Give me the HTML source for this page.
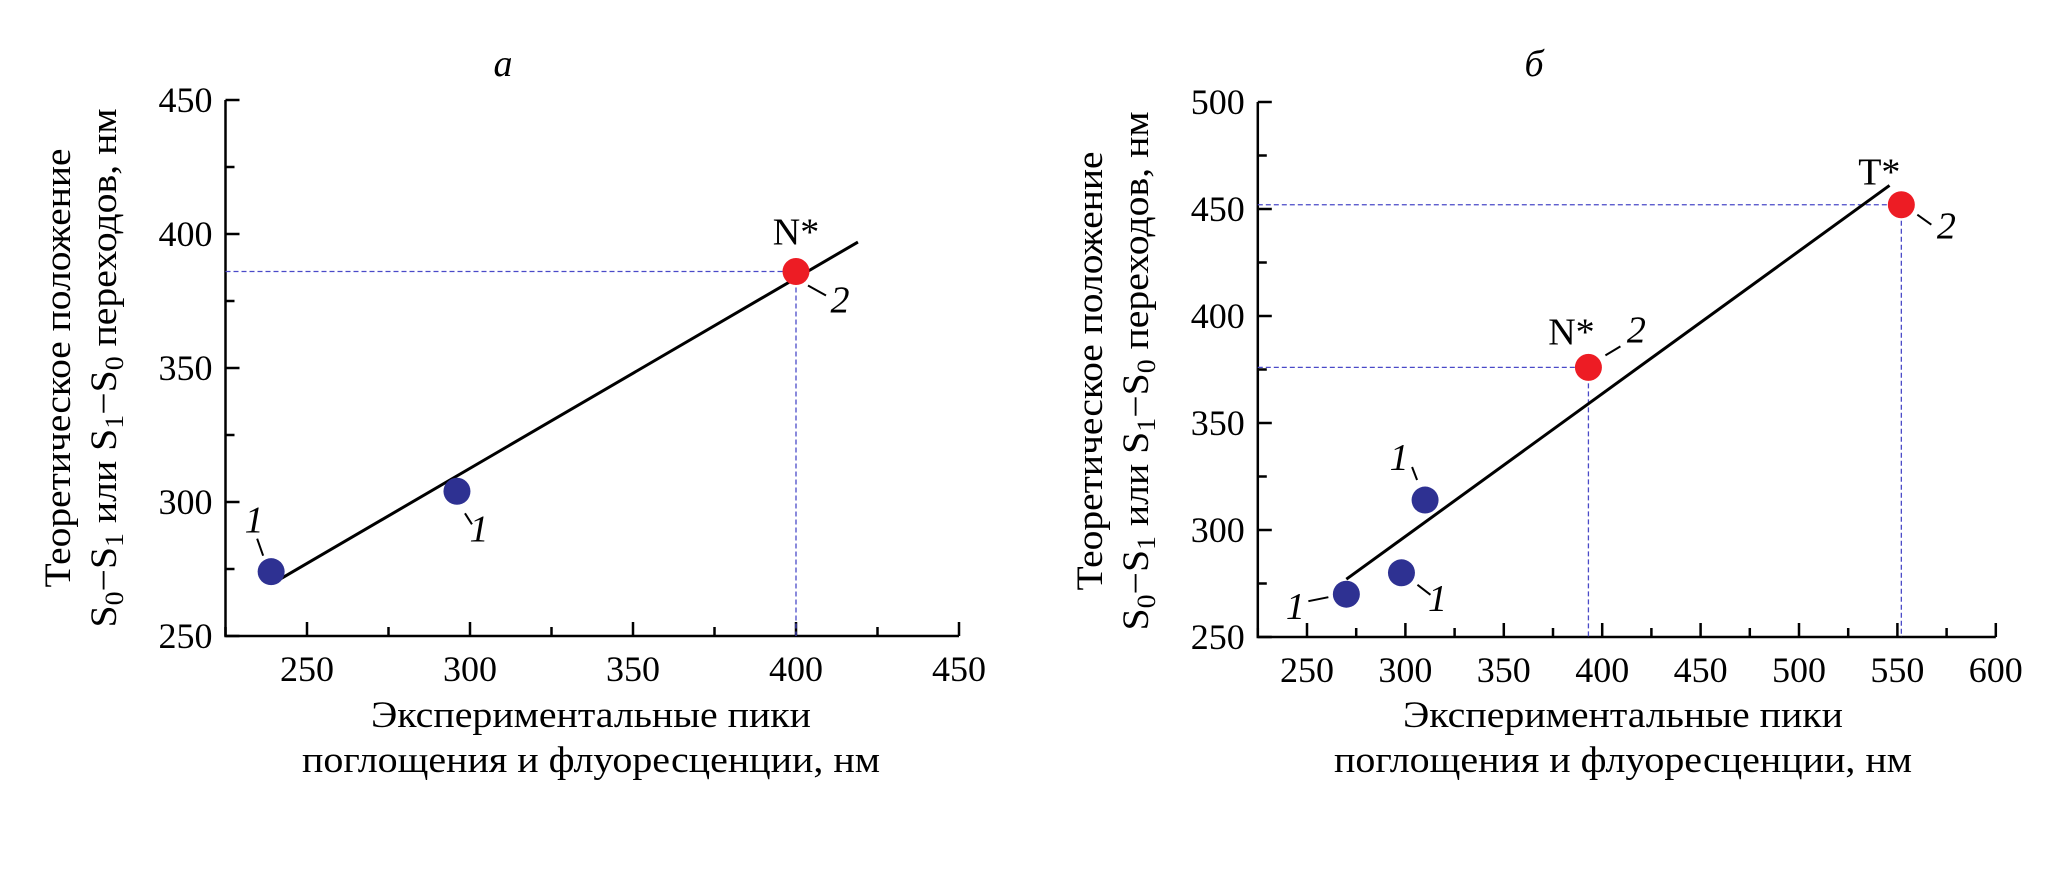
<!DOCTYPE html>
<html><head><meta charset="utf-8"><style>
html,body{margin:0;padding:0;background:#fff;}
svg{display:block;font-family:"Liberation Serif",serif;}
</style></head><body>
<svg id="fig" width="2049" height="875" viewBox="0 0 2049 875" xmlns="http://www.w3.org/2000/svg"></svg>
<script>
// Panel a data
const aXTicks = [250, 300, 350, 400, 450];
const aYTicks = [250, 300, 350, 400, 450];
const aSeries1X = [239, 296];
const aSeries1Y = [274, 304];
const aSeries2X = [400];
const aSeries2Y = [386];
const aFitX = [240, 419];
const aFitY = [270, 397];
// Panel b data
const bXTicks = [250, 300, 350, 400, 450, 500, 550, 600];
const bYTicks = [250, 300, 350, 400, 450, 500];
const bSeries1X = [270, 298, 310];
const bSeries1Y = [270, 280, 314];
const bSeries2X = [393, 552];
const bSeries2Y = [376, 452];
const bFitX = [270, 546];
const bFitY = [277, 461];

const NS = "http://www.w3.org/2000/svg";
const svg = document.getElementById('fig');
function mk(tag, attrs, parent, text) {
  const e = document.createElementNS(NS, tag);
  for (const k in attrs) e.setAttribute(k, attrs[k]);
  if (text !== undefined) e.textContent = text;
  (parent || svg).appendChild(e);
  return e;
}

function panel(cfg) {
  const g = mk('g', {});
  
  
  const xs = v => cfg.x0 + (v - cfg.xmin) * cfg.kx;
  const ys = v => cfg.y0 - (v - cfg.ymin) * cfg.ky;
  const left = xs(cfg.xstart), right = xs(cfg.xend), bottom = cfg.y0, top = ys(cfg.yend);
  const ax = mk('path', {d:`M${left},${top} L${left},${bottom} L${right},${bottom}`, fill:'none', stroke:'#000', 'stroke-width':2.5}, g);
  
  
  cfg.yTicks.forEach((v, i) => {
    const y = ys(v);
    mk('line', {x1:left, x2:left+14, y1:y, y2:y, stroke:'#000', 'stroke-width':2.5}, g);
    if (i < cfg.yTicks.length - 1) {
      const ym = ys(v + (cfg.yTicks[1]-cfg.yTicks[0])/2);
      mk('line', {x1:left, x2:left+9, y1:ym, y2:ym, stroke:'#000', 'stroke-width':2.5}, g);
    }
    const t = mk('text', {x:left-13, y:y+12, 'font-size':36, 'text-anchor':'end'}, g, String(v));
    
    
  });
  const step = cfg.xTicks[1]-cfg.xTicks[0];
  cfg.xTicks.forEach((v, i) => {
    const x = xs(v);
    mk('line', {x1:x, x2:x, y1:bottom, y2:bottom-14, stroke:'#000', 'stroke-width':2.5}, g);
    const xm = xs(v - step/2);
    mk('line', {x1:xm, x2:xm, y1:bottom, y2:bottom-9, stroke:'#000', 'stroke-width':2.5}, g);
    const t = mk('text', {x:x, y:bottom+45, 'font-size':36, 'text-anchor':'middle'}, g, String(v));
    
    
  });
  cfg.s2x.forEach((v, i) => {
    const px = xs(v), py = ys(cfg.s2y[i]);
    const h = mk('line', {x1:left, x2:px, y1:py, y2:py, stroke:'#4a4ac8', 'stroke-width':1.3, 'stroke-dasharray':'5,3'}, g);
    
    
    const vv = mk('line', {x1:px, x2:px, y1:py, y2:bottom, stroke:'#4a4ac8', 'stroke-width':1.3, 'stroke-dasharray':'5,3'}, g);
    
    
  });
  const fl = mk('line', {x1:xs(cfg.fx[0]), y1:ys(cfg.fy[0]), x2:xs(cfg.fx[1]), y2:ys(cfg.fy[1]), stroke:'#000', 'stroke-width':3}, g);
  
  
  cfg.s1x.forEach((v, i) => {
    const c = mk('ellipse', {cx:xs(v), cy:ys(cfg.s1y[i]), rx:13.5, ry:13.5, fill:'#2e3192'}, g);
    
    
    const L = cfg.l1[i];
    const px = xs(v), py = ys(cfg.s1y[i]);
    mk('line', {x1:px+L[2], y1:py+L[3], x2:px+L[4], y2:py+L[5], stroke:'#000', 'stroke-width':2}, g);
    const t = mk('text', {x:px+L[0], y:py+L[1]+13, 'font-size':38, 'font-style':'italic', 'text-anchor':'middle'}, g, '1');
    
    
  });
  cfg.s2x.forEach((v, i) => {
    const px = xs(v), py = ys(cfg.s2y[i]);
    const c = mk('ellipse', {cx:px, cy:py, rx:13.5, ry:13.5, fill:'#ed1c24'}, g);
    
    
    const L = cfg.l2[i];
    mk('line', {x1:px+L[2], y1:py+L[3], x2:px+L[4], y2:py+L[5], stroke:'#000', 'stroke-width':2}, g);
    const t = mk('text', {x:px+L[0], y:py+L[1]+13, 'font-size':38, 'font-style':'italic', 'text-anchor':'middle'}, g, '2');
    
    
    const n = mk('text', {x:px+L[6], y:py+L[7]+13, 'font-size':38, 'text-anchor':'middle'}, g, L[8]);
    
    
  });
  const tt = mk('text', {x:cfg.tx, y:76, 'font-size':38, 'font-style':'italic', 'text-anchor':'middle'}, g, cfg.title);
  
  
  const y1 = mk('text', {x:0, y:0, 'font-size':37, 'text-anchor':'middle', transform:`translate(${cfg.ytx1},${cfg.ytc}) rotate(-90)`, textLength:439, lengthAdjust:'spacingAndGlyphs'}, g, 'Теоретическое положение');
  
  
  const y2 = mk('text', {x:0, y:0, 'font-size':37, 'text-anchor':'middle', transform:`translate(${cfg.ytx2},${cfg.ytc}) rotate(-90)`, textLength:519, lengthAdjust:'spacingAndGlyphs'}, g);
  
  
  const parts = [['S',0],['0',1],['−S',0],['1',1],[' или S',0],['1',1],['−S',0],['0',1],[' переходов, нм',0]];
  parts.forEach(p => { mk('tspan', p[1] ? {'font-size':26} : {}, y2, p[0]); });
  const spans = y2.querySelectorAll('tspan');
  for (let i = 1; i < spans.length; i++) {
    if (parts[i][1]) spans[i].setAttribute('dy', 7);
    else if (parts[i-1][1]) spans[i].setAttribute('dy', -7);
  }
  const x1 = mk('text', {x:cfg.xtc, y:727, 'font-size':37, 'text-anchor':'middle', textLength:440, lengthAdjust:'spacingAndGlyphs'}, g, 'Экспериментальные пики');
  
  
  const x2 = mk('text', {x:cfg.xtc, y:772, 'font-size':37, 'text-anchor':'middle', textLength:578, lengthAdjust:'spacingAndGlyphs'}, g, 'поглощения и флуоресценции, нм');
  
  
}

panel({name:'panel-a', x0:307, xmin:250, kx:163/50, y0:636, ymin:250, ky:134/50,
  xstart:225, xend:450, yend:450, xTicks:aXTicks, yTicks:aYTicks,
  s1x:aSeries1X, s1y:aSeries1Y, s2x:aSeries2X, s2y:aSeries2Y, fx:aFitX, fy:aFitY,
  l1:[[-17,-52,-14,-33,-8,-16],[22,37,8,22,15,33]],
  l2:[[44,28,12,14,30,24,0,-40,'N*']],
  title:'а', tx:503, ytx1:70, ytx2:116, ytc:368, xtc:591});

panel({name:'panel-b', x0:1307, xmin:250, kx:98.4/50, y0:637, ymin:250, ky:107/50,
  xstart:225, xend:600, yend:500, xTicks:bXTicks, yTicks:bYTicks,
  s1x:bSeries1X, s1y:bSeries1Y, s2x:bSeries2X, s2y:bSeries2Y, fx:bFitX, fy:bFitY,
  l1:[[-51,12,-38,7,-18,3],[36,25,16,12,29,22],[-26,-43,-13,-33,-8,-20]],
  l2:[[48,-38,17,-12,32,-21,-17,-36,'N*'],[45,21,16,10,30,20,-22,-33,'T*']],
  title:'б', tx:1534, ytx1:1102, ytx2:1148, ytc:371, xtc:1623});
</script>
</body></html>
